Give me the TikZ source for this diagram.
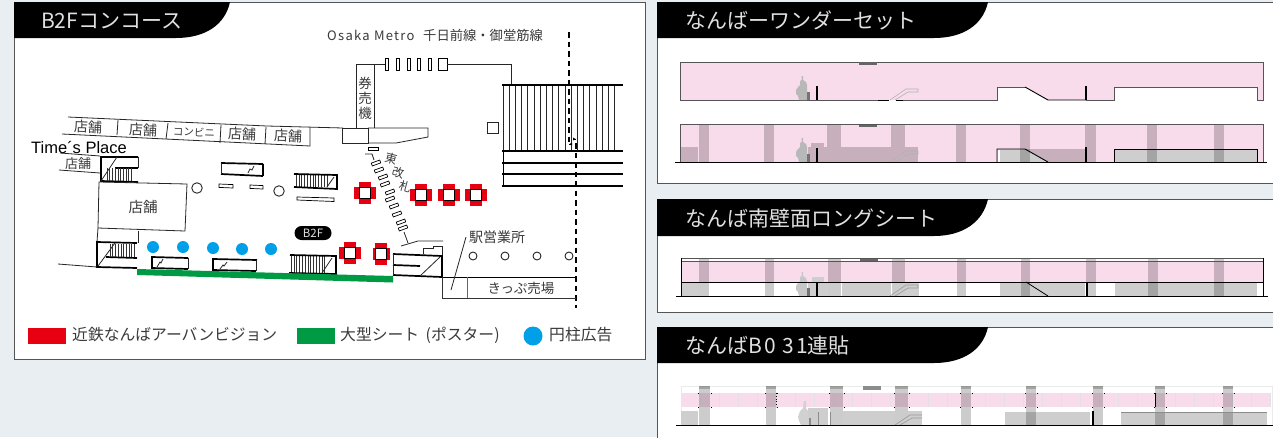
\documentclass[tikz,border=0pt]{standalone}
\usepackage{fontspec}
\setmainfont{Noto Sans CJK JP}
\newfontfamily\helv{Liberation Sans}
\newfontfamily\spaced[LetterSpace=10]{Noto Sans CJK JP}
\newcommand{\fs}[1]{\fontsize{#1}{#1}\selectfont}
\definecolor{pageb}{HTML}{E9EEF2}
\definecolor{border}{HTML}{555555}
\definecolor{ink}{HTML}{3A3A3A}
\definecolor{rosa}{HTML}{F9DCEB}
\definecolor{greybox}{HTML}{CECECE}
\definecolor{redm}{HTML}{E60012}
\definecolor{greenm}{HTML}{009A44}
\definecolor{bluem}{HTML}{00A0E9}
\tikzset{
  card/.style={fill=white,draw=border,line width=1pt},
  tabshape/.style={fill=black,draw=none},
  tabtext/.style={text=white!88!black,anchor=west,inner sep=0pt,font=\fs{21}},
  lbl/.style={text=ink,inner sep=0pt,font=\fs{13.5}},
  leg/.style={text=ink,inner sep=0pt,anchor=west,font=\fs{15.8}},
  thin/.style={line width=.8pt,draw=black!85},
  thick/.style={line width=1.7pt,draw=black},
  bar/.style={line width=2.6pt,draw=black},
  hat/.style={line width=.55pt,draw=black!80},
  shade/.style={fill=black,fill opacity=.2,draw=none},
  gatebox/.style={draw=black,line width=.7pt,fill=white,minimum width=9pt,minimum height=3pt,inner sep=0pt},
  pillar/.style={draw=black,line width=1pt,fill=white,minimum size=11pt,inner sep=0pt},
  post/.style={circle,draw=black!85,line width=.9pt,fill=white,inner sep=0pt},
}
% section-view furniture: #1 = ground y, #2 = figure colour, #3 = escalator colour
\newcommand{\personfig}[3]{%
  \fill[#2] (796,#1-10) -- (798,#1-13) -- (800,#1-15) -- (800,#1-19) -- (801.5,#1-20) -- (801.5,#1-24) -- (803,#1-24) -- (803,#1-20) -- (806,#1-18) -- (807,#1-15) -- (807,#1) -- (799,#1) -- (798,#1-4) -- (796,#1-6) -- cycle;
  \fill[black!55] (807,#1-8) rectangle (810,#1);
  \fill[black] (815.5,#1-14) rectangle (817.5,#1);
  \draw[line width=.9pt,black] (878,#1) -- (889,#1) (896,#1) -- (903,#1);
  \draw[line width=.6pt,#3] (890,#1) -- (906,#1-11) -- (918,#1-11) -- (918,#1-8) -- (908,#1-8) -- (895,#1);
}
\begin{document}
\begin{tikzpicture}[x=1pt,y=-1pt]
\useasboundingbox (0,0) rectangle (1273,437);
\fill[pageb] (0,0) rectangle (1273,437);
% cards
\draw[card] (14,2.5) rectangle (645,359);
\draw[card] (657.5,2.5) -- (1280,2.5) -- (1280,183) -- (657.5,183) -- cycle;
\draw[card] (657.5,199.5) -- (1280,199.5) -- (1280,312) -- (657.5,312) -- cycle;
\draw[card] (657.5,327.5) -- (1280,327.5) -- (1280,445) -- (657.5,445) -- cycle;
% tabs
\fill[tabshape] (14,2) -- (230,2) .. controls (225,25) and (205,38) .. (176,38) -- (14,38) -- cycle;
\fill[tabshape] (657,2) -- (988,2) .. controls (983,25) and (963,38) .. (934,38) -- (657,38) -- cycle;
\fill[tabshape] (657,199) -- (988,199) .. controls (983,222) and (963,236) .. (934,236) -- (657,236) -- cycle;
\fill[tabshape] (657,327) -- (988,327) .. controls (983,350) and (963,363) .. (934,363) -- (657,363) -- cycle;
\node[tabtext] (t1) at (41,21) {B2Fコンコース};
\node[tabtext] (t2) at (685,20) {なんばーワンダーセット};
\node[tabtext] (t3) at (685,219) {なんば南壁面ロングシート};
\node[tabtext] (t4) at (685,346) {なんば{\spaced B0 31}連貼};

% ---------- plan ----------
\node[lbl,anchor=west,font=\spaced\fs{13}] (metro) at (327,35) {Osaka Metro};
\node[lbl,anchor=west,font=\fs{13.3}] (metroj) at (423,35) {千日前線・御堂筋線};
% shop row
\draw[thin] (68,117) -- (267,126) -- (343,128);
\draw[thin] (62,134) -- (310,146) -- (310,128);
\foreach \a/\b/\c/\d in {118/120/117/135,168/123/166/139,221/125/220/143,266/127/265/144}
  \draw[thin] (\a,\b) -- (\c,\d);
\node[lbl,rotate=-2,font=\fs{14}] (s1) at (88,127) {店舗};
\node[lbl,rotate=-2,font=\fs{14}] (s2) at (143,130) {店舗};
\node[lbl,rotate=-2,font=\fs{10.5}] (s3) at (194,132) {コンビニ};
\node[lbl,rotate=-2,font=\fs{14}] (s4) at (242,134) {店舗};
\node[lbl,rotate=-2,font=\fs{14}] (s5) at (288,136) {店舗};
\node[inner sep=0pt,anchor=west,font=\helv\fs{16.5},text=black] (tp) at (31,147) {Time´s Place};
\draw[thin] (60,153) -- (100,156);
\draw[thin] (59,170) -- (100,173);
\node[lbl,font=\fs{13}] (s6) at (78,164) {店舗};
% ticket machine block
\draw[thin] (356,128) -- (356,64) -- (385,64);
\draw[thin] (374,64) -- (374,128);
\node[lbl,align=center,font=\fs{13.5}] (kenbaiki) at (365,98) {券\\[1.5pt]売\\[1.5pt]機};
\draw[thin] (342,128) rectangle (368,143);
\draw[thin] (368,128) -- (428,128) -- (428,137) -- (396,143) -- (368,143);
\foreach \x in {385,396,407,417,428}
  \draw[line width=.7pt,black,fill=white] (\x,58) rectangle ++(3.5,12);
\draw[line width=.7pt,black,fill=white] (438,58) rectangle (447,70);
\draw[thin] (447,64) -- (511,64) -- (511,85);
\draw[thin] (487,122) rectangle (498,133);
% big stairs
\foreach \x in {503,509.2,...,619} \draw[line width=.7pt,black!85] (\x,85) -- (\x,151);
\draw[line width=.8pt,black] (503,151) -- (503,186);
\foreach \y in {85,151,163,174,186} \draw[bar] (502,\y) -- (623,\y);
% dashed border
\draw[line width=1.3pt,dash pattern=on 5.5pt off 4pt] (569,32) -- (569,143);
\draw[line width=1.3pt,dash pattern=on 5.5pt off 4pt] (576,143) -- (576,308);
\draw[line width=.6pt,black] (569,144) -- (572,144) (576,139) -- (573,139);
\fill (572,142.5) -- (572,145.5) -- (569.5,144) -- cycle;
\fill (573,137.5) -- (573,140.5) -- (575.5,139) -- cycle;
% left stairs upper
\draw[thin] (100,156) -- (100,173);
\draw[thick] (138,157) -- (101,157) -- (101,181) -- (138,182);
\draw[thick] (115,168) -- (138,168);
\draw[thin] (138,157) -- (138,168);
\draw[thin] (117,157) -- (101,181);
\foreach \x in {107,109.7,...,133} \draw[hat] (\x,168) -- (\x,181);
% big shop
\draw[thin] (99,182) -- (187,184) -- (185,231) -- (98,228) -- cycle;
\node[lbl,font=\fs{14.5}] (s7) at (143,207) {店舗};
\draw[thin] (98,228) -- (97,242);
\draw[thin] (138,231) -- (138,243);
% left stairs lower
\draw[thick] (137,243) -- (97,242) -- (97,267) -- (137,268);
\draw[thick] (106,257) -- (137,258);
\draw[thin] (115,243) -- (98,266);
\foreach \x in {110,112.7,...,135} \draw[hat] (\x,244) -- (\x,257);
\draw[thin] (58,264) -- (97,267);
% central stairs
\draw[thick] (221,163) -- (263,164);
\draw[thick] (221,174) -- (263,176);
\draw[thin] (221,163) -- (221,174);
\draw[thick] (263,164) -- (263,176);
\draw[thin] (248,173) -- (250,169) -- (252,170) -- (254,166);
\draw[line width=.7pt,black,fill=white] (219,184) -- (233,184.6) -- (233,188) -- (219,187.4) -- cycle;
\draw[line width=.7pt,black,fill=white] (250,185) -- (263,185.6) -- (263,189) -- (250,188.4) -- cycle;
\node[post,minimum size=10.5pt] (c1) at (197,188) {};
\node[post,minimum size=10.5pt] (c2) at (279,191) {};
\foreach \x in {296,298.8,...,327} \draw[hat] (\x,175) -- (\x,187);
\draw[thick] (294,174) -- (337,175) -- (337,189) -- (294,187);
\draw[thin] (327,187) -- (334,177);
\draw[line width=.7pt,black,fill=white] (297,197) -- (334,198) -- (334,201.5) -- (297,200) -- cycle;
% pill
\node[fill=black,rounded corners=7pt,minimum width=37pt,minimum height=14pt,inner sep=0pt,text=white!88!black,font=\fs{11.5}] (b2f) at (313,233) {B2F};
% bottom stairs
\draw[thick] (188,258) -- (152,257) -- (152,268) -- (188,269);
\draw[thin] (188,258) -- (188,269);
\draw[thin] (157,267) -- (160,262) -- (161,263) -- (163,259);
\draw[thick] (257,260) -- (213,259) -- (213,270) -- (256,271);
\draw[thin] (256.5,260) -- (256.5,271);
\draw[thin] (220,269) -- (223,265) -- (224,266) -- (227,262);
\foreach \x in {291,293.8,...,325} \draw[hat] (\x,256) -- (\x,273);
\draw[thick] (290,255) -- (336,256) -- (336,274) -- (289,273);
\draw[thin] (322,273) -- (332,258);
% right block near ticket office
\draw[thin] (423,254) -- (423,248) -- (433,248) -- (433,246) -- (442,246) -- (442,256);
\draw[thick] (393,254) -- (442,256) -- (442,277) -- (393,275);
\draw[thick] (393,265) -- (420,266);
\draw[thin] (393,254) -- (393,275);
\draw[thin] (420,276) -- (440,257);
% green sheet
\fill[greenm] (137,269) -- (393,276) -- (393,282.5) -- (137,275) -- cycle;
% ticket office
\draw[line width=.9pt,black] (442,277) -- (576,277);
\draw[line width=.9pt,black!80] (442,277) -- (442,298) -- (576,298);
\draw[line width=.9pt,black!60] (467,277) -- (467,298);
\draw[thin] (451,290) -- (466,237);
\node[lbl,font=\fs{14}] (ek) at (497,237) {駅営業所};
\node[lbl] (kp) at (521,288) {きっぷ売場};
\foreach \x in {473,505,537,569} \node[post,minimum size=8pt] at (\x,256) {};
% east gates
\draw[line width=.7pt,black,fill=white] (368,147.5) rectangle (378,150.5);
\draw[thin] (365,154) -- (372,154) -- (374,160);
\foreach \x/\y in {376/163,379/170,383/177,385/184,390/192,390/199,394/206,397/214,401/222,403/228}
  \node[gatebox,rotate=20] at (\x,\y) {};
\draw[thin] (404,232) -- (408,243);
\draw[thin] (401,246) -- (418,241) -- (443,241);
\node[lbl,rotate=-15,font=\fs{12}] (e1) at (391,159) {東};
\node[lbl,rotate=-15,font=\fs{12}] (e2) at (398,173) {改};
\node[lbl,rotate=-15,font=\fs{12}] (e3) at (405,187) {札};
% red pillars
\foreach \x/\y/\r in {365/193/11,421/195/11,449/195/11,476/195/11,350/253/11,381/254/8.5}{
  \fill[redm] (\x-\r,\y-6) rectangle (\x+\r,\y+6);
  \fill[redm] (\x-6,\y-11) rectangle (\x+6,\y+11);
  \node[pillar] at (\x,\y) {};
}
% blue dots
\foreach \x/\y in {153/247,183/247,213/248,242/249,271/249}
  \fill[bluem] (\x,\y) circle (6);
% legend
\fill[redm] (28,328) rectangle (66,344);
\node[leg] (l1) at (72,335) {近鉄なんばアーバンビジョン};
\fill[greenm] (297,328) rectangle (335,344);
\node[leg] (l2) at (340,335) {大型シート\hspace{3pt} (ポスター)};
\fill[bluem] (533,336) circle (9.5);
\node[leg] (l3) at (549,335) {円柱広告};

% ---------- section 1 ----------
\fill[rosa] (680,62) -- (1263,62) -- (1263,100) -- (1257,100) -- (1257,87) -- (1114,87) -- (1114,100) -- (1048,100) -- (1025,87) -- (997,87) -- (997,100) -- (680,100) -- cycle;
\draw[line width=1pt,border] (680,100) -- (680,62) -- (1263,62) -- (1263,100) -- (1257,100) -- (1257,87) -- (1114,87) -- (1114,100) -- (1086,100);
\draw[line width=1pt,border] (680,100) -- (878,100) (903,100) -- (997,100) -- (997,87) -- (1025,87);
\draw[line width=.9pt,black] (1025,87) -- (1048,100) -- (1086,100);
\fill[black!60] (859,62) rectangle (877,64.5);
\personfig{100}{black!28}{black!30}
\fill[black] (1085,86) rectangle (1087,100);

% ---------- section 2 ----------
\fill[rosa] (680,124) rectangle (1263,162);
\fill[greybox] (997,149) -- (1025,149) -- (1048,162) -- (997,162) -- cycle;
\fill[greybox] (1114,149) rectangle (1257,162);
\fill[white] (998,150) rectangle (999.5,162);
\foreach \a/\b/\c/\d in {681/147/698/162,841/147/891/162,905/147/918/162,808/147/827/162}
  \fill[black,fill opacity=.2] (\a,\b) rectangle (\c,\d);
\fill[black,fill opacity=.2] (1025,149) -- (1085,149) -- (1085,162) -- (1048,162) -- cycle;
\fill[black,fill opacity=.2] (811,143) rectangle (824,147);
\foreach \a/\b in {699/709,764/774,827/841,891/905,956/966,1020/1030,1085/1096,1147/1157,1214/1224}
  \fill[shade] (\a,124) rectangle (\b,162);
\personfig{162}{black!28}{black!30}
\draw[line width=.9pt,black] (997,162) -- (997,149) -- (1025,149) -- (1048,162);
\draw[line width=.9pt,black] (1114,162) -- (1114,149) -- (1257,149) -- (1257,162);
\fill[black] (1085,147) rectangle (1087,162);
\fill[black!60] (859,124) rectangle (877,126.5);
\draw[line width=1pt,border] (680,162) -- (680,124) -- (1263,124) -- (1263,162);
\draw[line width=1pt,black] (675,162) -- (1267,162);

% ---------- section 3 ----------
\fill[rosa] (681,261) rectangle (1263,282);
\foreach \a/\b/\c/\d in {681/282/699/296,842/282/891/296,905/282/919/296,808/282/828/296,1000/282/1085/296,1115/282/1257/296}
  \fill[greybox] (\a,\b) rectangle (\c,\d);
\fill[greybox] (812,277) rectangle (824,282);
\foreach \a/\b in {699/709,765/774,828/841,892/905,957/966,1021/1030,1086/1096,1148/1158,1214/1224}
  \fill[shade] (\a,258) rectangle (\b,296);
\personfig{296}{black!22}{black!40}
\draw[line width=.8pt,black] (1026,282) -- (1048,296);
\fill[black] (1086,282) rectangle (1088,296);
\draw[line width=.9pt,border] (681,258) -- (1263,258);
\draw[line width=.9pt,border] (681,261) -- (1263,261);
\draw[line width=1pt,black] (681,282) -- (1263,282);
\draw[line width=.8pt,black] (681,258) -- (681,296) (1263,258) -- (1263,296);
\fill[black!60] (860,259) rectangle (878,261);
\draw[line width=1pt,black] (676,296) -- (1268,296);

% ---------- section 4 ----------
\draw[line width=.5pt,black!8] (681,386) rectangle (1272,425);
\fill[rosa] (681,393) rectangle (1270,407);
\foreach \x in {700,719,...,1270} \draw[line width=.5pt,white!85!rosa!90!black] (\x,393) -- (\x,407);
\foreach \a/\b/\c/\d in {681/411/698/425,843/411/895/425,908/411/922/425,1005/412/1090/425,1121/412/1267/425,808/408/828/425}
  \fill[greybox] (\a,\b) rectangle (\c,\d);
\foreach \a/\b in {699/710,766/776,830/843,895/908,961/971,1026/1036,1093/1103,1155/1165,1223/1233}{
  \fill[shade] (\a,386) rectangle (\b,425);
  \fill[black,fill opacity=.2] (\a,386) rectangle (\b,389);
  \draw[line width=.8pt,black] (\a-.5,393) -- ++(-1,0) (\b+.5,393) -- ++(1,0) (\a-.5,407) -- ++(-1,0) (\b+.5,407) -- ++(1,0);
}
\draw[line width=.8pt,black,dotted] (776,393) -- (776,407);
\draw[line width=1pt,black] (1155,393) -- (1155,407);
\fill[black!45] (863,386) rectangle (881,389.5);
\fill[black!18] (798,417) -- (800,411) -- (803,408) -- (804,401) -- (806,401) -- (806,408) -- (808,411) -- (809,425) -- (801,425) -- (799,421) -- cycle;
\fill[black!45] (809,418) rectangle (811,425);
\draw[line width=.6pt,black!45] (818,412) -- (818,425) (830,412) -- (830,425);
\draw[line width=.6pt,black!40] (895,425) -- (910,415) -- (922,415) (900,425) -- (912,418) -- (922,418);
\draw[line width=.6pt,black!45] (1121,412) -- (1267,412);
\fill[black] (1092,411) rectangle (1094,425);
\draw[line width=1pt,black] (676,425) -- (1273,425);
\end{tikzpicture}
\end{document}
